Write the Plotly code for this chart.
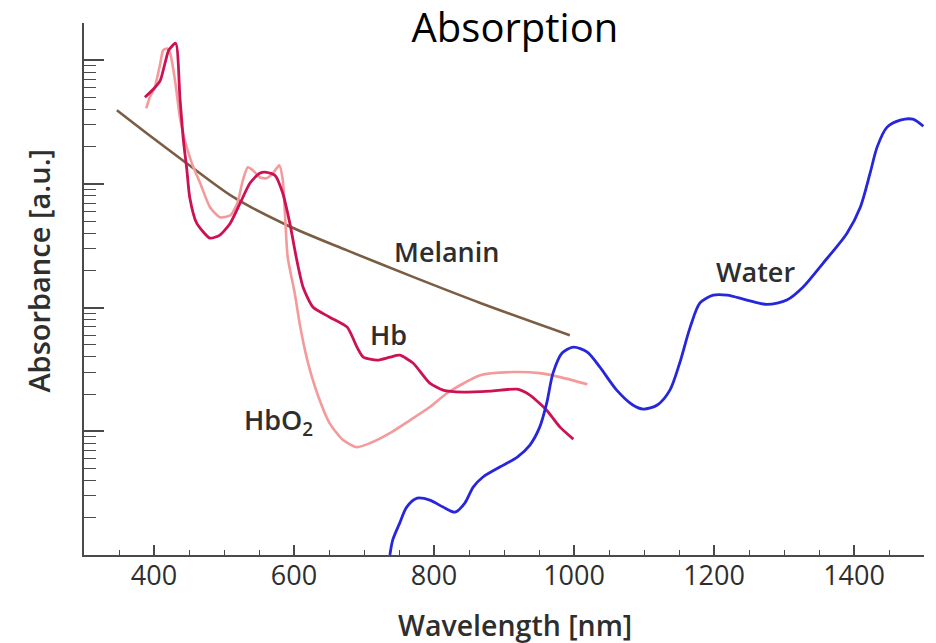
import plotly.graph_objects as go

# ---------------- data ----------------
hb_nm = [387, 399, 409, 416, 421, 431, 437, 442, 447, 451, 461, 480, 494, 509, 523, 537,
         551, 561, 573, 584, 594, 604, 613, 627, 651, 676, 690, 699, 719, 737, 751, 770,
         794, 813, 841, 880, 919, 937, 961, 980, 999]
hb_abs = [5010, 5810, 6870, 9590, 12000, 13700, 5010, 2250, 1290, 780, 481, 364, 385, 481,
          697, 1010, 1220, 1240, 1170, 839, 481, 242, 146, 101, 83.6, 69.5, 47.9, 39.7,
          37.6, 39.7, 41.2, 35.6, 24.5, 21.5, 20.7, 21.1, 21.9, 19.6, 14.8, 10.8, 8.65]

hbo2_nm = [389, 394, 401, 409, 413, 419, 423, 430, 437, 444, 454, 466, 480, 494, 509, 519,
           527, 534, 541, 551, 561, 570, 579, 584, 587, 591, 601, 609, 619, 633, 651, 670,
           690, 709, 737, 766, 794, 819, 866, 913, 951, 980, 1019]
hbo2_abs = [4080, 5010, 6030, 9420, 12000, 12400, 11400, 6870, 3450, 2250, 1470, 1010, 647,
            537, 557, 697, 1070, 1360, 1290, 1130, 1110, 1220, 1410, 1070, 578, 255, 131,
            69.5, 37.6, 20.4, 11.6, 8.49, 7.45, 8.04, 9.66, 12.3, 15.7, 20.4, 28.4, 30.1,
            29.5, 27.4, 24.0]

mel_nm = [347, 390, 447, 513, 590, 675, 770, 866, 994]
mel_abs = [3930, 2550, 1460, 783, 463, 291, 177, 109, 59.8]

water_nm = [737, 741, 751, 761, 776, 794, 813, 830, 844, 856, 870, 894, 919, 937, 951, 961,
            970, 983, 999, 1019, 1037, 1061, 1084, 1099, 1119, 1137, 1151, 1166, 1180, 1199,
            1219, 1247, 1276, 1304, 1327, 1356, 1390, 1409, 1423, 1433, 1447, 1466, 1484, 1499]
water_abs = [1.0, 1.32, 1.81, 2.44, 2.88, 2.78, 2.44, 2.22, 2.63, 3.54, 4.27, 5.14, 6.19, 7.74,
             10.8, 16.9, 29.5, 42.9, 47.9, 43.7, 33.0, 21.5, 16.3, 15.1, 16.3, 21.5, 35.6,
             69.5, 109, 126, 126, 115, 106, 115, 146, 229, 399, 647, 1220, 1980, 2860, 3270,
             3330, 2920]

x_tick_vals = [400, 600, 800, 1000, 1200, 1400]
x_tick_text = ["400", "600", "800", "1000", "1200", "1400"]
y_major = [1, 10, 100, 1000, 10000]
y_minor = [m * d for d in [1, 10, 100, 1000] for m in range(2, 10)] + [20000]

labels = ["Melanin", "Hb", "HbO<sub>2</sub>", "Water"]
y_title = "Absorbance [a.u.]"
x_title = "Wavelength [nm]"

# ---------------- figure ----------------
FONT = "Open Sans"
TXT = "#2e2e2e"
fig = go.Figure()

fig.add_trace(go.Scatter(x=mel_nm, y=mel_abs, mode="lines", name="Melanin",
                         line=dict(color="#7b5d43", width=2.6, shape="spline", smoothing=0.8)))
fig.add_trace(go.Scatter(x=hbo2_nm, y=hbo2_abs, mode="lines", name="HbO2",
                         line=dict(color="#f59a9a", width=2.6, shape="spline", smoothing=0.6)))
fig.add_trace(go.Scatter(x=hb_nm, y=hb_abs, mode="lines", name="Hb",
                         line=dict(color="#cc1155", width=2.8, shape="spline", smoothing=0.6)))
fig.add_trace(go.Scatter(x=water_nm, y=water_abs, mode="lines", name="Water",
                         line=dict(color="#2626dc", width=2.8, shape="spline", smoothing=0.8)))

ann_pos = [(0.431, 0.571), (0.363, 0.414), (0.232, 0.251), (0.799, 0.532)]
for txt, (ax, ay) in zip(labels, ann_pos):
    fig.add_annotation(text=txt, x=ax, y=ay, xref="paper", yref="paper",
                       xanchor="center", yanchor="middle", showarrow=False,
                       font=dict(family=FONT, size=27, color=TXT, weight=600))

# axis titles
fig.add_annotation(text=y_title, x=-0.0545, y=0.535, xref="paper", yref="paper",
                   xanchor="center", yanchor="middle", textangle=-90, showarrow=False,
                   font=dict(family=FONT, size=29, color=TXT, weight=600))
fig.add_annotation(text=x_title, x=0.513, y=-0.131, xref="paper", yref="paper",
                   xanchor="center", yanchor="middle", showarrow=False,
                   font=dict(family=FONT, size=28.5, color=TXT, weight=600))

fig.update_layout(
    width=936, height=643,
    margin=dict(l=84, r=12, t=23, b=88, autoexpand=False),
    paper_bgcolor="white", plot_bgcolor="white",
    showlegend=False,
    title=dict(text="Absorption", x=0.513, xref="paper", xanchor="center",
               y=0.956, yref="container", yanchor="middle",
               font=dict(family=FONT, size=40, color="black")),
    font=dict(family=FONT, color=TXT),
)

axis_col = "#4a4a4a"
fig.update_xaxes(
    range=[300, 1500], showgrid=False, zeroline=False, automargin=False,
    showline=True, linecolor=axis_col, linewidth=2,
    tickmode="array", tickvals=x_tick_vals, ticktext=x_tick_text,
    ticks="inside", ticklen=10, tickwidth=1.5, tickcolor=axis_col,
    tickfont=dict(family=FONT, size=27, color=TXT, weight=500),
    ticklabelstandoff=-4,
    minor=dict(tickmode="linear", tick0=300, dtick=50, ticks="inside", ticklen=5,
               tickwidth=1.2, tickcolor=axis_col, showgrid=False),
)
fig.update_yaxes(
    type="log", range=[0, 4.3], showgrid=False, zeroline=False, automargin=False,
    showline=True, linecolor=axis_col, linewidth=2,
    tickmode="array", tickvals=y_major, showticklabels=False,
    ticks="inside", ticklen=20, tickwidth=1.5, tickcolor=axis_col,
    minor=dict(tickmode="array", tickvals=y_minor, ticks="inside", ticklen=12,
               tickwidth=1.2, tickcolor=axis_col, showgrid=False),
)

# remove the page's default body margin so the 936x643 figure fills the window
fig.write_html("out.html",
               config={"displayModeBar": False},
               post_script="document.body.style.margin='0';document.body.style.overflow='hidden';")
